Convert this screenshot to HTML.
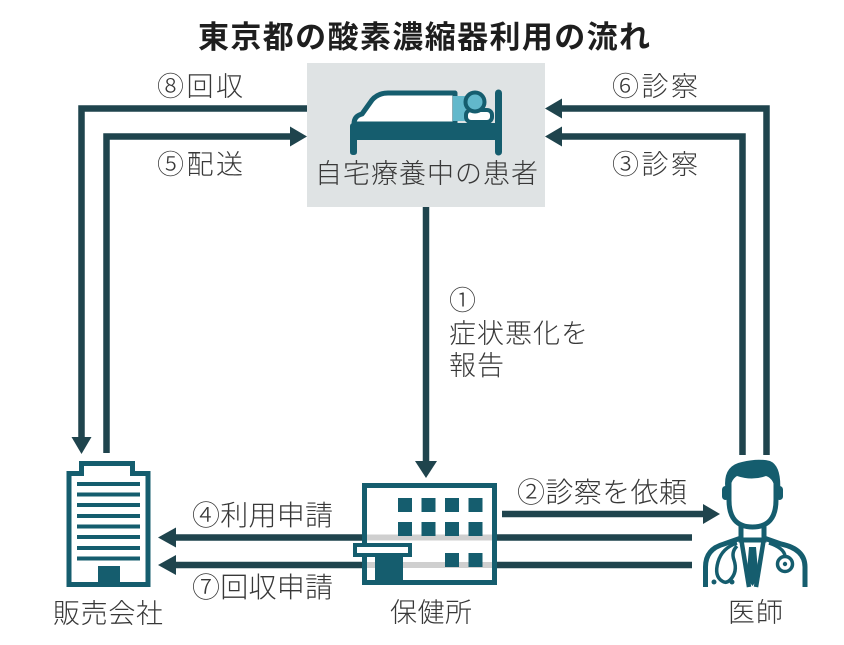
<!DOCTYPE html>
<html><head><meta charset="utf-8"><style>
html,body{margin:0;padding:0;background:#fff;}
svg{display:block;}
text{font-family:"Liberation Sans","Noto Sans CJK JP",sans-serif;fill:#383838;font-weight:300;}
</style></head><body>
<svg width="844" height="645" viewBox="0 0 844 645" xmlns="http://www.w3.org/2000/svg">
<rect width="844" height="645" fill="#fff"/>
<text x="198" y="48" font-size="31" textLength="452" style="fill:#1e1e1e;font-weight:bold">東京都の酸素濃縮器利用の流れ</text>

<!-- patient box -->
<rect x="307" y="63" width="238" height="144" fill="#dfe3e4"/>
<!-- bed icon -->
<g>
  <path d="M354,124 Q354,116 362,114 L372,100 Q378,93 388,93 H455 V124 Z" fill="#fff" stroke="#155d6e" stroke-width="5" stroke-linejoin="round"/>
  <path d="M453,96 H466 V121 H453 Z" fill="#62b8cb"/>
  <rect x="466" y="110" width="26" height="12" rx="5" fill="#fff" stroke="#155d6e" stroke-width="4"/>
  <circle cx="475" cy="102" r="9.5" fill="#62b8cb" stroke="#155d6e" stroke-width="4"/>
  <path d="M350,126 Q350,123 354,123 H496 V140 H357 V152 Q357,155 353.5,155 Q350,155 350,152 Z" fill="#155d6e"/>
  <line x1="498.5" y1="93" x2="498.5" y2="152" stroke="#155d6e" stroke-width="7" stroke-linecap="round"/>
</g>
<text x="315" y="183" font-size="27" textLength="223">自宅療養中の患者</text>

<!-- connectors -->
<g stroke="#1f444d" stroke-width="6.5" fill="none" stroke-linejoin="miter">
  <path d="M307,108.5 H81.5 V440"/>
  <path d="M106.5,453 V136.5 H292"/>
  <path d="M766.5,455 V108.5 H560"/>
  <path d="M742.5,455 V136.5 H560"/>
  <path d="M426,207 V463"/>
  <path d="M502,514 H705"/>
  <path d="M692,537.5 H174"/>
  <path d="M692,565 H174"/>
</g>
<g fill="#1f444d">
  <polygon points="81.5,454 71.5,437 91.5,437"/>
  <polygon points="307,136.5 290,126.5 290,146.5"/>
  <polygon points="545,108.5 562,98.5 562,118.5"/>
  <polygon points="545,136.5 562,126.5 562,146.5"/>
  <polygon points="426,478 415,461 437,461"/>
  <polygon points="720,514 703,504 703,524"/>
  <polygon points="158,537.5 176,527.5 176,547.5"/>
  <polygon points="158,565 176,555 176,575"/>
</g>

<!-- labels -->
<text x="157" y="96" font-size="27" textLength="86">⑧回収</text>
<text x="157" y="174" font-size="27" textLength="86">⑤配送</text>
<text x="612" y="96" font-size="27" textLength="86">⑥診察</text>
<text x="612" y="174" font-size="27" textLength="86">③診察</text>
<text x="449" y="310" font-size="27">①</text>
<text x="449" y="343" font-size="27" textLength="139">症状悪化を</text>
<text x="449" y="375" font-size="27" textLength="55">報告</text>
<text x="517" y="502" font-size="28" textLength="170">②診察を依頼</text>
<text x="192" y="525" font-size="28" textLength="141">④利用申請</text>
<text x="192" y="597" font-size="28" textLength="141">⑦回収申請</text>
<text x="53" y="623" font-size="27" textLength="110">販売会社</text>
<text x="390" y="622" font-size="27" textLength="82">保健所</text>
<text x="728" y="622" font-size="27" textLength="55">医師</text>

<!-- sales company building -->
<g>
  <path d="M69,584.5 V473.5 H81.5 V463.5 H132.5 V473.5 H148 V584.5 Z" fill="#fff" stroke="#155d6e" stroke-width="5"/>
  <g fill="#155d6e">
    <rect x="77" y="482" width="63" height="4"/>
    <rect x="77" y="492.5" width="63" height="4"/>
    <rect x="77" y="503" width="63" height="4"/>
    <rect x="77" y="514" width="63" height="4"/>
    <rect x="77" y="524.5" width="63" height="4"/>
    <rect x="77" y="535" width="63" height="4"/>
    <rect x="77" y="546" width="63" height="4"/>
    <rect x="77" y="556.5" width="63" height="4"/>
    <rect x="98" y="566" width="22" height="18"/>
  </g>
</g>

<!-- health center building -->
<g>
  <rect x="364.5" y="485.5" width="130" height="97" fill="#fff" stroke="#155d6e" stroke-width="5"/>
  <rect x="367" y="534.5" width="125" height="6" fill="#cfcfcf"/>
  <rect x="367" y="562" width="125" height="6" fill="#cfcfcf"/>
  <g fill="#155d6e">
    <rect x="398" y="498" width="14" height="14"/>
    <rect x="421.5" y="498" width="14" height="14"/>
    <rect x="445" y="498" width="14" height="14"/>
    <rect x="468.5" y="498" width="14" height="14"/>
    <rect x="398" y="522" width="14" height="14"/>
    <rect x="421.5" y="522" width="14" height="14"/>
    <rect x="445" y="522" width="14" height="14"/>
    <rect x="468.5" y="522" width="14" height="14"/>
    <rect x="445" y="553" width="14" height="14"/>
    <rect x="468.5" y="553" width="14" height="14"/>
    <rect x="375" y="556" width="28" height="29"/>
  </g>
  <rect x="355" y="545" width="55" height="10" fill="#fff" stroke="#155d6e" stroke-width="4"/>
</g>

<!-- doctor -->
<g>
  <path d="M705.5,587 V567 Q705.5,549 724,544 L741,538 H764 L781,544 Q805,549 805,567 V587" fill="#fff" stroke="#155d6e" stroke-width="5"/>
  <rect x="741" y="518" width="23" height="22" fill="#fff" stroke="#155d6e" stroke-width="5"/>
  <path d="M741,538 L749,587" stroke="#155d6e" stroke-width="4.5" fill="none"/>
  <path d="M764,538 L756,587" stroke="#155d6e" stroke-width="4.5" fill="none"/>
  <polygon points="749,547 756,547 758.5,578 752.5,586 746.5,578" fill="#155d6e"/>
  <path d="M729,478 V500 Q729,527 752.5,527 Q776,527 776,500 V478" fill="#fff" stroke="#155d6e" stroke-width="5"/>
  <rect x="722" y="486" width="7" height="14" rx="3.5" fill="#155d6e"/>
  <rect x="776" y="486" width="7" height="14" rx="3.5" fill="#155d6e"/>
  <path d="M726,493 Q721,466 742,462 Q758,458 770,461 Q782,466 780,493 L775,493 Q775,479 766,476 Q752,481 737,476 Q730,480 730,493 Z" fill="#155d6e"/>
  <!-- stethoscope -->
  <path d="M737,543 Q722,548 718,562 Q714,576 722,581 Q726,584 730,580 Q738,572 734,560 Q731,552 737,546" fill="none" stroke="#155d6e" stroke-width="3.5"/>
  <circle cx="714" cy="582" r="2.5" fill="#155d6e"/>
  <circle cx="732" cy="582" r="2.5" fill="#155d6e"/>
  <path d="M769,543 Q784,548 785,556" fill="none" stroke="#155d6e" stroke-width="3.5"/>
  <circle cx="785" cy="564" r="7.5" fill="#fff" stroke="#155d6e" stroke-width="3.5"/>
  <circle cx="785" cy="564" r="2.2" fill="#155d6e"/>
</g>
</svg>
</body></html>
